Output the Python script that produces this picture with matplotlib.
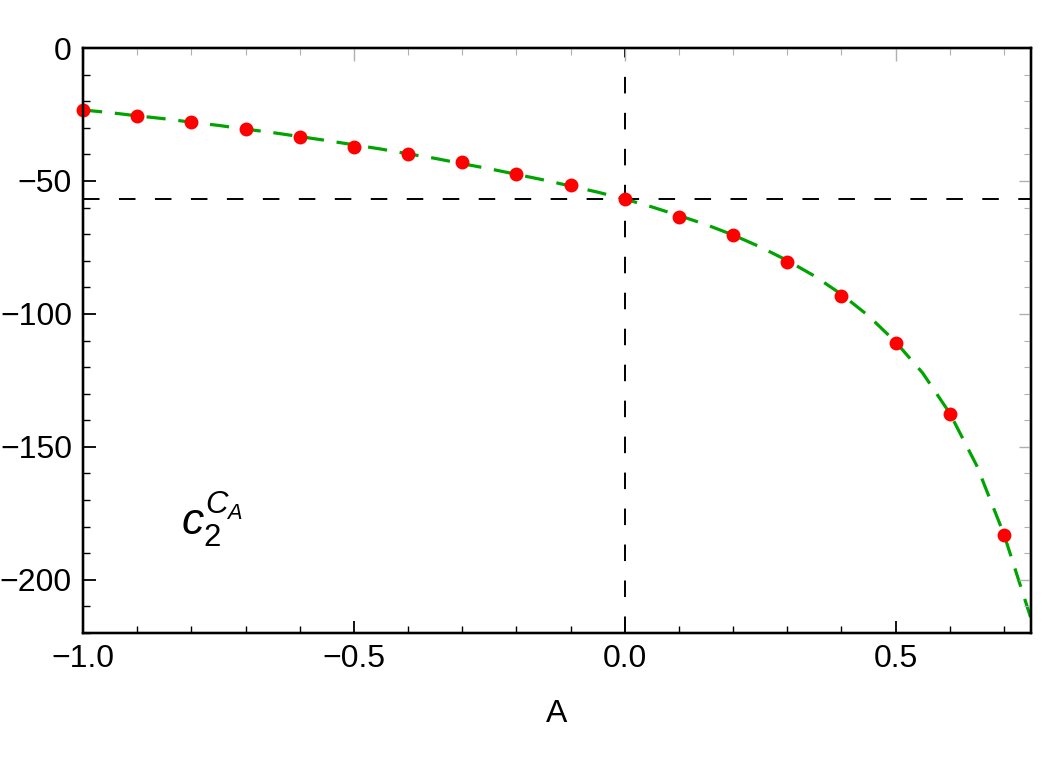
import matplotlib
matplotlib.use('Agg')
from matplotlib import pyplot as plt
from matplotlib.ticker import MultipleLocator, FuncFormatter

plt.rcParams['font.family'] = ['Liberation Sans', 'DejaVu Sans']
plt.rcParams['mathtext.fontset'] = 'custom'
plt.rcParams['mathtext.rm'] = 'Liberation Sans'
plt.rcParams['mathtext.it'] = 'Liberation Sans:italic'

# data points (red)
a_pts = [-1.0, -0.9, -0.8, -0.7, -0.6, -0.5, -0.4, -0.3, -0.2, -0.1,
         0.0, 0.1, 0.2, 0.3, 0.4, 0.5, 0.6, 0.7]
c2_pts = [-23.3, -25.6, -28.0, -30.3, -33.5, -37.2, -39.8, -42.9, -47.4, -51.5,
          -56.8, -63.4, -70.4, -80.6, -93.1, -110.9, -137.7, -183.1]

# fitted curve (green dashed)
a_fit = [-1.0, -0.95, -0.9, -0.85, -0.8, -0.75, -0.7, -0.65, -0.6, -0.55,
         -0.5, -0.45, -0.4, -0.35, -0.3, -0.25, -0.2, -0.15, -0.1, -0.05,
         0.0, 0.05, 0.1, 0.15, 0.2, 0.25, 0.3, 0.35, 0.4, 0.45,
         0.5, 0.55, 0.6, 0.65, 0.7, 0.75]
c2_fit = [-23.3, -24.3, -25.5, -26.6, -27.9, -29.1, -30.5, -31.8, -33.3, -34.8,
          -36.4, -38.0, -39.8, -41.5, -43.5, -45.4, -47.5, -49.6, -51.9, -54.2,
          -56.8, -59.75, -63.0, -66.4, -70.3, -74.8, -79.9, -85.7, -92.6, -100.7,
          -110.5, -122.2, -137.3, -157.1, -182.8, -214.5]

# reference lines
a_ref = 0.0
c2_ref = -56.8

fig = plt.figure(figsize=(10.42, 7.61), dpi=100)
ax = fig.add_axes([0.0797, 0.1682, 0.9097, 0.7687])

ax.axvline(a_ref, color='black', lw=1.4, dashes=(8.5, 10), zorder=1)
ax.axhline(c2_ref, color='black', lw=1.4, dashes=(8.5, 10), zorder=1)
ax.plot(a_fit, c2_fit, color='#00a400', lw=2.3, dashes=(6, 4), zorder=2)
ax.plot(a_pts, c2_pts, 'o', color='#ff0000', ms=10, mec='none', zorder=3, clip_on=False)

xlim = (-1.0, 0.75)
ylim = (-220, 0)
ax.set_xlim(*xlim)
ax.set_ylim(*ylim)

minus = lambda s: s.replace('-', '\u2212')
ax.xaxis.set_major_locator(MultipleLocator(0.5))
ax.xaxis.set_minor_locator(MultipleLocator(0.1))
ax.yaxis.set_major_locator(MultipleLocator(50))
ax.yaxis.set_minor_locator(MultipleLocator(10))
ax.xaxis.set_major_formatter(FuncFormatter(lambda v, p: minus(f'{v:.1f}')))
ax.yaxis.set_major_formatter(FuncFormatter(lambda v, p: minus(f'{v:.0f}')))

ax.tick_params(which='both', direction='in', labelsize=23, color='black', pad=8)
ax.tick_params(which='major', length=9, width=1.3)
ax.tick_params(which='minor', length=5, width=1.0)
for s in ax.spines.values():
    s.set_linewidth(1.6)

# gray unlabeled ticks on top and right
axt = ax.twiny()
axr = ax.twinx()
axt.set_xlim(*xlim)
axr.set_ylim(*ylim)
for a in (axt, axr):
    a.xaxis.set_major_locator(MultipleLocator(0.5))
    a.xaxis.set_minor_locator(MultipleLocator(0.1))
    a.yaxis.set_major_locator(MultipleLocator(50))
    a.yaxis.set_minor_locator(MultipleLocator(10))
    a.tick_params(which='both', direction='in', color='#b0b0b0',
                  labeltop=False, labelright=False)
    a.tick_params(which='major', length=9, width=1.0)
    a.tick_params(which='minor', length=5, width=0.8)
    for s in a.spines.values():
        s.set_linewidth(1.6)

ax.set_xlabel('A', fontsize=23, labelpad=18)
ax.text(-0.82, -183, r'$c_2^{C_A}$', fontsize=32)

fig.savefig('out.png', dpi=100)
